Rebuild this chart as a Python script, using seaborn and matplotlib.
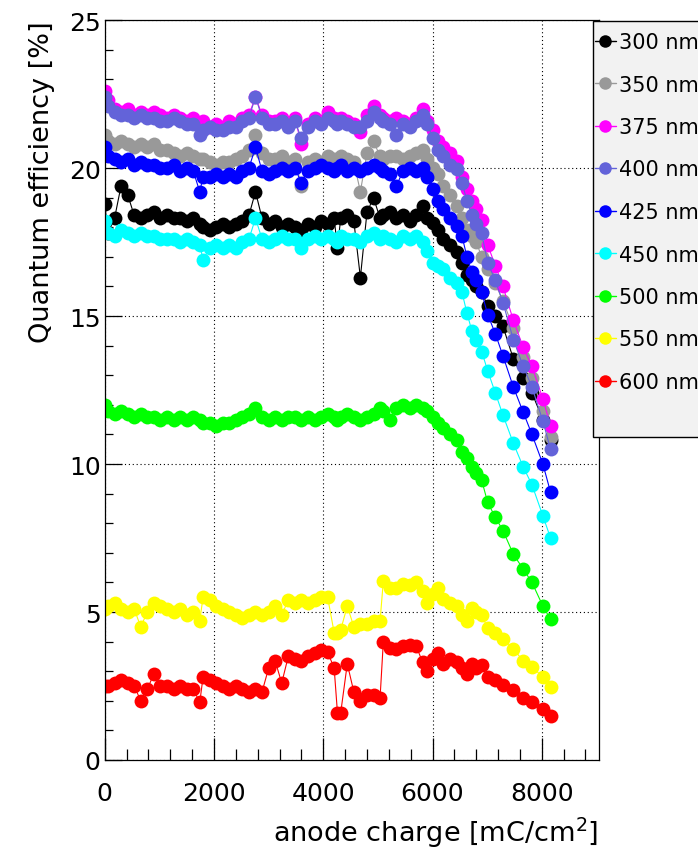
import pandas as pd
import seaborn as sns
import matplotlib.pyplot as plt
from matplotlib.lines import Line2D
from matplotlib.patches import Rectangle
from matplotlib.ticker import MultipleLocator

# anode charge [mC/cm^2], shared by all wavelengths
charge = [0, 60, 180, 300, 420, 540, 660, 780, 900, 1020,
          1140, 1260, 1380, 1500, 1620, 1740, 1800, 1920, 2040, 2160,
          2280, 2400, 2520, 2640, 2760, 2880, 3000, 3120, 3240, 3360,
          3480, 3600, 3720, 3840, 3960, 4080, 4200, 4260, 4320, 4440,
          4560, 4680, 4800, 4920, 5040, 5100, 5220, 5340, 5460, 5580,
          5700, 5820, 5900, 6010, 6100, 6200, 6320, 6440, 6540, 6630,
          6720, 6800, 6900, 7010, 7150, 7290, 7480, 7660, 7820, 8020,
          8160]

qe_300 = [18.8, 17.8, 18.3, 19.4, 19.1, 18.4, 18.3, 18.4, 18.5, 18.3,
          18.4, 18.3, 18.3, 18.2, 18.3, 18.1, 18.0, 17.9, 18.0, 18.1,
          18.0, 18.1, 18.2, 18.4, 19.2, 18.3, 18.1, 18.2, 18.0, 18.1,
          18.0, 17.9, 18.1, 18.0, 18.2, 18.1, 18.3, 17.3, 18.3, 18.4,
          18.2, 16.3, 18.5, 19.0, 18.3, 18.4, 18.5, 18.3, 18.4, 18.2,
          18.4, 18.7, 18.3, 18.15, 17.9, 17.6, 17.4, 17.15, 16.8, 16.4,
          16.2, 16.0, 15.8, 15.35, 15.0, 14.65, 13.55, 12.9, 12.4, 11.5,
          10.8]
qe_350 = [21.1, 20.9, 20.8, 20.9, 20.8, 20.7, 20.8, 20.7, 20.8, 20.6,
          20.6, 20.5, 20.4, 20.5, 20.4, 20.3, 20.3, 20.2, 20.1, 20.2,
          20.2, 20.3, 20.4, 20.6, 21.1, 20.5, 20.3, 20.3, 20.4, 20.2,
          20.3, 19.4, 20.2, 20.3, 20.2, 20.4, 20.3, 20.2, 20.4, 20.3,
          20.2, 19.2, 20.5, 20.9, 20.4, 20.3, 20.4, 20.4, 20.3, 20.4,
          20.5, 20.6, 20.3, 20.0, 19.8, 19.4, 19.1, 18.7, 18.3, 17.9,
          17.7, 17.5, 17.0, 16.6, 16.1, 15.5, 14.6, 13.6, 12.9, 11.8,
          10.9]
qe_375 = [22.6, 22.3, 22.0, 21.9, 22.0, 21.8, 21.9, 21.8, 21.9, 21.8,
          21.7, 21.8, 21.7, 21.6, 21.7, 21.5, 21.6, 21.4, 21.5, 21.4,
          21.6, 21.5, 21.7, 21.8, 22.4, 21.8, 21.6, 21.6, 21.7, 21.5,
          21.7, 20.8, 21.5, 21.7, 21.6, 21.9, 21.7, 21.6, 21.7, 21.6,
          21.5, 21.2, 21.8, 22.1, 21.8, 21.7, 21.6, 21.7, 21.6, 21.5,
          21.7, 22.0, 21.6, 21.3, 20.9, 20.7, 20.5, 20.25, 19.7, 19.3,
          18.9, 18.6, 18.25, 17.4, 16.7, 16.0, 14.85, 13.95, 13.3, 12.2,
          11.3]
qe_400 = [22.4, 22.1, 21.9, 21.8, 21.8, 21.7, 21.8, 21.7, 21.7, 21.6,
          21.6, 21.7, 21.6, 21.5, 21.5, 21.1, 21.3, 21.4, 21.3, 21.3,
          21.4, 21.4, 21.6, 21.7, 22.4, 21.7, 21.5, 21.5, 21.6, 21.4,
          21.6, 21.0, 21.4, 21.6, 21.5, 21.7, 21.6, 21.5, 21.6, 21.5,
          21.4, 21.4, 21.6, 21.9, 21.7, 21.6, 21.5, 21.1, 21.5, 21.4,
          21.6, 21.8, 21.5, 21.0, 20.6, 20.4, 20.1, 19.95, 19.5, 18.9,
          18.4, 18.1, 17.8, 16.8, 16.2, 15.45, 14.2, 13.3, 12.6, 11.45,
          10.5]
qe_425 = [20.7, 20.4, 20.3, 20.2, 20.3, 20.1, 20.2, 20.1, 20.1, 20.0,
          20.0, 20.1, 19.9, 20.0, 19.9, 19.2, 19.7, 19.7, 19.8, 19.7,
          19.8, 19.7, 19.9, 20.0, 20.7, 19.9, 19.8, 19.9, 20.0, 19.9,
          20.0, 19.5, 19.9, 20.0, 20.1, 20.0, 19.9, 20.0, 20.1, 19.9,
          20.0, 19.9, 20.0, 20.1, 20.0, 19.9, 19.8, 19.4, 19.9, 20.0,
          19.9, 20.0, 19.7, 19.3, 18.9, 18.6, 18.3, 18.05, 17.7, 17.0,
          16.5, 16.2, 15.8, 15.05, 14.4, 13.65, 12.6, 11.75, 11.0, 10.0,
          9.05]
qe_450 = [18.2, 17.8, 17.7, 17.9, 17.8, 17.7, 17.8, 17.7, 17.7, 17.6,
          17.6, 17.6, 17.5, 17.6, 17.5, 17.4, 16.9, 17.3, 17.4, 17.3,
          17.4, 17.3, 17.5, 17.6, 18.3, 17.6, 17.5, 17.6, 17.7, 17.6,
          17.6, 17.3, 17.6, 17.7, 17.6, 17.7, 17.6, 17.5, 17.7, 17.6,
          17.6, 17.5, 17.7, 17.8, 17.6, 17.7, 17.6, 17.5, 17.7, 17.6,
          17.7, 17.5, 17.2, 16.8, 16.7, 16.6, 16.3, 16.1, 15.8, 15.1,
          14.5, 14.2, 13.8, 13.15, 12.4, 11.65, 10.7, 9.9, 9.3, 8.25,
          7.5]
qe_500 = [12.0, 11.8, 11.7, 11.8, 11.7, 11.6, 11.7, 11.6, 11.6, 11.5,
          11.6, 11.5, 11.6, 11.5, 11.6, 11.5, 11.4, 11.4, 11.3, 11.4,
          11.4, 11.5, 11.6, 11.7, 11.9, 11.6, 11.5, 11.6, 11.5, 11.6,
          11.6, 11.5, 11.6, 11.5, 11.6, 11.7, 11.6, 11.5, 11.6, 11.7,
          11.6, 11.5, 11.6, 11.7, 11.9, 11.8, 11.5, 11.9, 12.0, 11.9,
          12.0, 11.9, 11.8, 11.6, 11.4, 11.2, 11.0, 10.8, 10.4, 10.2,
          9.9, 9.7, 9.45, 8.7, 8.2, 7.75, 6.95, 6.45, 6.0, 5.2,
          4.75]
qe_550 = [5.1, 5.2, 5.3, 5.1, 5.0, 5.1, 4.5, 5.0, 5.3, 5.2,
          5.1, 5.0, 5.1, 4.9, 5.0, 4.7, 5.5, 5.4, 5.2, 5.1,
          5.0, 4.9, 4.8, 4.9, 5.0, 4.9, 5.0, 5.2, 4.9, 5.4,
          5.3, 5.4, 5.3, 5.4, 5.5, 5.5, 4.3, 4.3, 4.4, 5.2,
          4.5, 4.6, 4.6, 4.7, 4.7, 6.05, 5.8, 5.8, 5.95, 5.9,
          6.0, 5.7, 5.3, 5.6, 5.8, 5.45, 5.3, 5.2, 4.9, 4.7,
          5.15, 5.0, 4.9, 4.45, 4.3, 4.1, 3.75, 3.35, 3.15, 2.8,
          2.45]
qe_600 = [2.5, 2.5, 2.6, 2.7, 2.6, 2.5, 2.0, 2.4, 2.9, 2.5,
          2.5, 2.4, 2.5, 2.4, 2.4, 1.95, 2.8, 2.7, 2.6, 2.5,
          2.4, 2.5, 2.4, 2.3, 2.4, 2.3, 3.1, 3.35, 2.6, 3.5,
          3.4, 3.35, 3.5, 3.6, 3.7, 3.65, 3.1, 1.6, 1.6, 3.25,
          2.3, 2.0, 2.2, 2.2, 2.1, 4.0, 3.8, 3.75, 3.85, 3.9,
          3.85, 3.3, 3.0, 3.4, 3.6, 3.25, 3.4, 3.3, 3.1, 2.9,
          3.25, 3.1, 3.2, 2.8, 2.7, 2.55, 2.35, 2.1, 1.95, 1.72,
          1.5]

wavelengths = ["300 nm", "350 nm", "375 nm", "400 nm", "425 nm",
               "450 nm", "500 nm", "550 nm", "600 nm"]
series = [qe_300, qe_350, qe_375, qe_400, qe_425, qe_450, qe_500, qe_550, qe_600]
colors = ["#000000", "#999999", "#ff00ff", "#6363d9", "#0000ff",
          "#00ffff", "#00ff00", "#ffff00", "#ff0000"]


def plot_qe_vs_charge():
    sns.set_style("ticks")
    plt.rcParams["font.family"] = ["DejaVu Sans"]
    # ROOT-like plain black text and axes
    plt.rcParams["text.color"] = "black"
    plt.rcParams["axes.labelcolor"] = "black"
    plt.rcParams["xtick.color"] = "black"
    plt.rcParams["ytick.color"] = "black"
    plt.rcParams["axes.edgecolor"] = "black"

    rows = []
    for label, values in zip(wavelengths, series):
        for q, v in zip(charge, values):
            rows.append({"charge": q, "qe": v, "wavelength": label})
    df = pd.DataFrame(rows)

    fig = plt.figure(figsize=(6.98, 8.54), dpi=100)
    ax = fig.add_axes([0.150, 0.1089, 0.7076, 0.8665])

    palette = dict(zip(wavelengths, colors))
    sns.lineplot(data=df, x="charge", y="qe", hue="wavelength",
                 hue_order=wavelengths, palette=palette, sort=False,
                 marker="o", markersize=10, markeredgewidth=0,
                 linewidth=0.8, errorbar=None, legend=False, ax=ax)

    ax.set_xlim(0, 9040)
    ax.set_ylim(0, 25)
    ax.xaxis.set_major_locator(MultipleLocator(2000))
    ax.xaxis.set_minor_locator(MultipleLocator(400))
    ax.yaxis.set_major_locator(MultipleLocator(5))
    ax.yaxis.set_minor_locator(MultipleLocator(1))

    ax.set_axisbelow(True)
    ax.grid(True, which="major", color="black", linestyle=(0, (1, 2.5)), linewidth=0.8)

    ax.tick_params(axis="both", which="both", direction="in", width=0.9)
    ax.tick_params(axis="x", which="major", length=16, labelsize=18, pad=15)
    ax.tick_params(axis="x", which="minor", length=8)
    ax.tick_params(axis="y", which="major", length=12, labelsize=18, pad=3)
    ax.tick_params(axis="y", which="minor", length=6)
    for sp in ax.spines.values():
        sp.set_linewidth(0.9)

    ax.set_xlabel("anode charge [mC/cm$^2$]", fontsize=19.5, loc="right")
    ax.set_ylabel("Quantum efficiency [%]", fontsize=19.5, loc="top")
    ax.xaxis.set_label_coords(1.0, -0.074)
    ax.yaxis.set_label_coords(-0.10, 1.0)

    # legend box in ROOT style, partly outside the canvas
    fig.add_artist(Rectangle((592.7 / 698, 1 - 438 / 854), 0.3, (438 - 21.7) / 854,
                             transform=fig.transFigure, facecolor="#f2f2f2",
                             edgecolor="black", linewidth=1.0, zorder=5))
    handles = [Line2D([], [], color=c, marker="o", markersize=9, markeredgewidth=0,
                      linewidth=1.0) for c in colors]
    leg = fig.legend(handles, wavelengths, loc="upper left",
                     bbox_to_anchor=(595 / 698, 1 - 33 / 854), frameon=False,
                     fontsize=15, handlelength=1.0, handletextpad=0.15,
                     borderpad=0, borderaxespad=0, labelspacing=1.08)
    leg.set_zorder(6)

    fig.savefig("out.png", dpi=100)


if __name__ == "__main__":
    plot_qe_vs_charge()
